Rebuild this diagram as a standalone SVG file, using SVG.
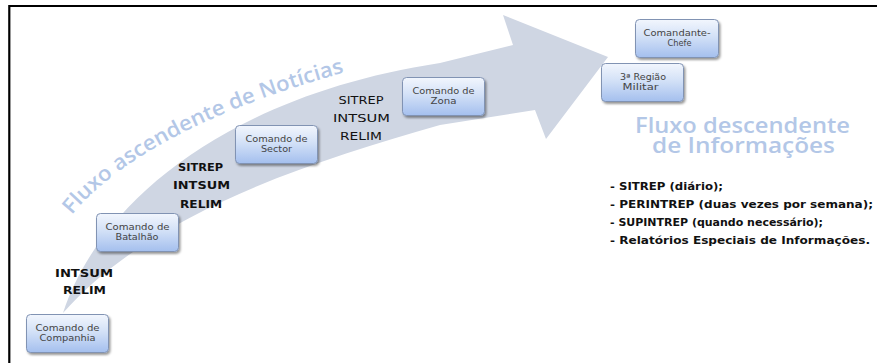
<svg xmlns="http://www.w3.org/2000/svg" width="877" height="363" viewBox="0 0 877 363">
<defs>
<linearGradient id="boxg" x1="0" y1="0" x2="0" y2="1">
<stop offset="0" stop-color="#f2f6fd"/>
<stop offset="0.45" stop-color="#d3e1f7"/>
<stop offset="1" stop-color="#a4bfee"/>
</linearGradient>
<filter id="sh" x="-10%" y="-10%" width="130%" height="140%">
<feDropShadow dx="1.5" dy="2" stdDeviation="1" flood-color="#000" flood-opacity="0.4"/>
</filter>
<path id="arc" d="M 72,215 C 112,165 200,112 346,72"/>
</defs>
<style>
.box{fill:url(#boxg);stroke:#8193b3;stroke-width:1;filter:url(#sh)}
.nt{font-family:"DejaVu Sans",sans-serif;font-size:8px;fill:#444;text-anchor:middle}
.lbl{font-family:"DejaVu Sans",sans-serif;font-size:10px;fill:#111;text-anchor:middle}
.b{font-weight:bold}
.lst{font-family:"DejaVu Sans",sans-serif;font-size:10.5px;font-weight:bold;fill:#111}
.big{font-family:"Open Sans",sans-serif;fill:#b3c7e7;font-weight:600}
</style>
<rect width="877" height="363" fill="#fff"/>
<path d="M 9.3,363 V 6 H 877" fill="none" stroke="#000" stroke-width="2.2"/>

<g id="arrow">
<path d="M 63,313 C 100,200 230,95 440,63 L 513,45 L 503,15 L 608,57 L 546,139 L 535,110 L 440,125 C 300,165 150,215 63,313 Z" fill="#cfd6e3"/>
</g>

<g id="fluxo-ascendente">
<text class="big" font-size="21" stroke="#fff" stroke-width="2.5" paint-order="stroke" stroke-linejoin="round"><textPath href="#arc" textLength="312" lengthAdjust="spacingAndGlyphs">Fluxo ascendente de Notícias</textPath></text>
</g>

<g id="fluxo-descendente">
<text class="big" font-size="21" x="742.5" y="133" text-anchor="middle" textLength="215" lengthAdjust="spacingAndGlyphs">Fluxo descendente</text>
<text class="big" font-size="21" x="743.5" y="153" text-anchor="middle" textLength="183" lengthAdjust="spacingAndGlyphs">de Informações</text>
</g>

<g id="connectors">
<g id="lbl-zona-sector">
<text class="lbl" x="361" y="104" textLength="45" lengthAdjust="spacingAndGlyphs">SITREP</text>
<text class="lbl" x="361.5" y="122" textLength="57" lengthAdjust="spacingAndGlyphs">INTSUM</text>
<text class="lbl" x="361" y="139.5" textLength="42" lengthAdjust="spacingAndGlyphs">RELIM</text>
</g>
<g id="lbl-sector-batalhao">
<text class="lbl b" x="200.5" y="171" textLength="45" lengthAdjust="spacingAndGlyphs">SITREP</text>
<text class="lbl b" x="201.5" y="189" textLength="57" lengthAdjust="spacingAndGlyphs">INTSUM</text>
<text class="lbl b" x="201" y="208" textLength="42" lengthAdjust="spacingAndGlyphs">RELIM</text>
</g>
<g id="lbl-batalhao-companhia">
<text class="lbl b" font-size="12" x="84" y="277" textLength="58" lengthAdjust="spacingAndGlyphs">INTSUM</text>
<text class="lbl b" font-size="12" x="84.5" y="294" textLength="43" lengthAdjust="spacingAndGlyphs">RELIM</text>
</g>
</g>

<g id="n-companhia">
<rect class="box" x="26.5" y="314.5" width="82" height="38" rx="4"/>
<text class="nt" x="67.5" y="331" textLength="64" lengthAdjust="spacingAndGlyphs">Comando de</text>
<text class="nt" x="67.5" y="340.5" textLength="56" lengthAdjust="spacingAndGlyphs">Companhia</text>
</g>
<g id="n-batalhao">
<rect class="box" x="96.5" y="213.5" width="82" height="38" rx="4"/>
<text class="nt" x="137.5" y="230" textLength="64" lengthAdjust="spacingAndGlyphs">Comando de</text>
<text class="nt" x="137" y="239.5" textLength="43" lengthAdjust="spacingAndGlyphs">Batalhão</text>
</g>
<g id="n-sector">
<rect class="box" x="235.5" y="125.5" width="82" height="38" rx="4"/>
<text class="nt" x="276.5" y="142" textLength="62" lengthAdjust="spacingAndGlyphs">Comando de</text>
<text class="nt" x="276.5" y="151.5" textLength="31" lengthAdjust="spacingAndGlyphs">Sector</text>
</g>
<g id="n-zona">
<rect class="box" x="402.5" y="77.5" width="82" height="38" rx="4"/>
<text class="nt" x="443.5" y="94" textLength="62" lengthAdjust="spacingAndGlyphs">Comando de</text>
<text class="nt" x="443.5" y="103.5" textLength="26" lengthAdjust="spacingAndGlyphs">Zona</text>
</g>
<g id="n-regiao">
<rect class="box" x="601.5" y="63.5" width="82" height="38" rx="4"/>
<text class="nt" x="643" y="80" textLength="46" lengthAdjust="spacingAndGlyphs">3ª Região</text>
<text class="nt" x="640.5" y="89.5" textLength="36" lengthAdjust="spacingAndGlyphs">Militar</text>
</g>
<g id="n-comandante">
<rect class="box" x="635.5" y="19.5" width="83" height="38" rx="4"/>
<text class="nt" x="677" y="36" textLength="67" lengthAdjust="spacingAndGlyphs">Comandante-</text>
<text class="nt" x="679.5" y="45.5" textLength="24" lengthAdjust="spacingAndGlyphs">Chefe</text>
</g>

<g id="lista">
<text class="lst" x="610" y="190" textLength="113" lengthAdjust="spacingAndGlyphs">- SITREP (diário);</text>
<text class="lst" x="610" y="208" textLength="263" lengthAdjust="spacingAndGlyphs">- PERINTREP (duas vezes por semana);</text>
<text class="lst" x="610" y="226" textLength="213" lengthAdjust="spacingAndGlyphs">- SUPINTREP (quando necessário);</text>
<text class="lst" x="610" y="244" textLength="260" lengthAdjust="spacingAndGlyphs">- Relatórios Especiais de Informações.</text>
</g>
</svg>
